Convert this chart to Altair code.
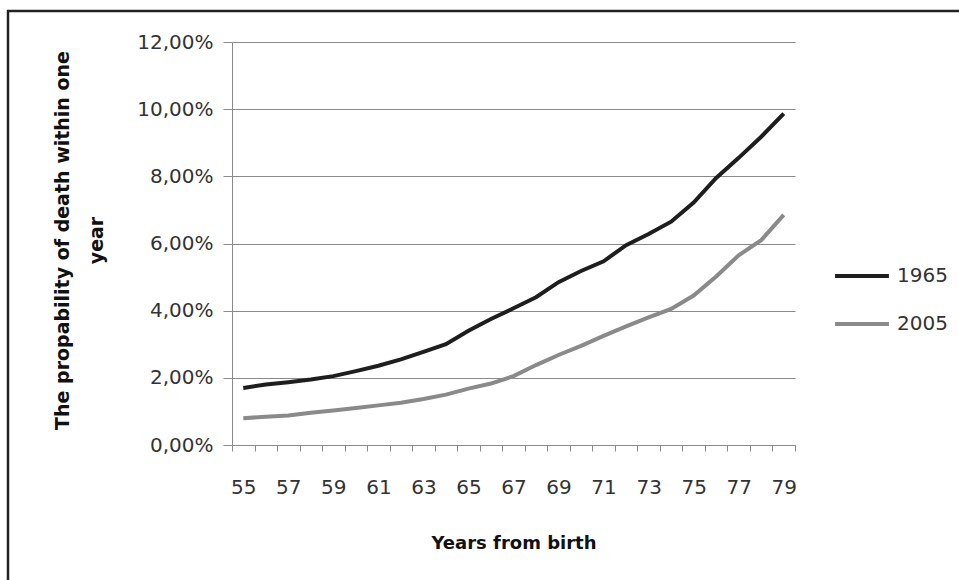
import altair as alt
import pandas as pd

years = list(range(55, 80))
p1965 = [1.70, 1.80, 1.87, 1.95, 2.05, 2.20, 2.36, 2.55, 2.77, 3.00, 3.40, 3.75, 4.07,
         4.40, 4.85, 5.18, 5.47, 5.95, 6.28, 6.65, 7.22, 7.95, 8.55, 9.18, 9.87]
p2005 = [0.80, 0.84, 0.88, 0.96, 1.03, 1.10, 1.18, 1.26, 1.37, 1.50, 1.68, 1.83, 2.05,
         2.38, 2.68, 2.95, 3.25, 3.53, 3.80, 4.05, 4.45, 5.02, 5.65, 6.10, 6.85]
series = ["1965", "2005"]
colors = ["#1e1e1e", "#8a8a8a"]
y_ticks = [0, 0.02, 0.04, 0.06, 0.08, 0.10, 0.12]

rows = []
for s, vals in zip(series, [p1965, p2005]):
    for yr, v in zip(years, vals):
        rows.append({"year": yr, "p": v / 100.0, "series": s})
df = pd.DataFrame(rows)

FONT = "DejaVu Sans"
W, H = 563, 403
PL, PT = 232, 42

lines = alt.Chart(df).mark_line(strokeWidth=4, clip=False).encode(
    x=alt.X("year:O", bandPosition=0.5,
            scale=alt.Scale(type="band", paddingInner=0, paddingOuter=0),
            axis=alt.Axis(title="Years from birth", labelAngle=0, tickBand="extent",
                          labelExpr="datum.value % 2 == 1 ? datum.label : ''",
                          labelOverlap=False, labelFont=FONT, labelFontSize=20,
                          labelColor="#333333", labelPadding=26, tickSize=6,
                          tickColor="#8a8a8a", domainColor="#8a8a8a", grid=False,
                          titleFont=FONT, titleFontSize=18, titleFontWeight="bold",
                          titleColor="#111111", titleY=98, titleBaseline="middle")),
    y=alt.Y("p:Q", scale=alt.Scale(domain=[0, 0.12], nice=False),
            axis=alt.Axis(values=y_ticks,
                          labelExpr="replace(format(datum.value, '.2%'), '.', ',')",
                          title=["The propability of death within one", "year"],
                          labelFont=FONT, labelFontSize=20, labelColor="#333333",
                          labelPadding=10, tickSize=9, tickColor="#8a8a8a",
                          domainColor="#8a8a8a", grid=True, gridColor="#8a8a8a",
                          gridWidth=1, titleFont=FONT, titleFontSize=19,
                          titleFontWeight="bold", titleColor="#111111",
                          titleAngle=-90, titleAlign="center", titleBaseline="middle",
                          titleX=-170, titleY=198, titleLineHeight=34)),
    color=alt.Color("series:N", scale=alt.Scale(domain=series, range=colors),
                    legend=alt.Legend(title=None, orient="none", legendX=601, legendY=205,
                                      symbolType="stroke", symbolSize=2900,
                                      symbolStrokeWidth=4, labelFont=FONT,
                                      labelFontSize=20, labelColor="#333333",
                                      labelOffset=6, rowPadding=9)),
)

frame = alt.Chart(pd.DataFrame({"k": [0]})).mark_rect(
    fill=None, stroke="#222222", strokeWidth=2.5, clip=False
).encode(
    x=alt.value(8 - PL), y=alt.value(11 - PT),
    x2=alt.value(1000 - PL), y2=alt.value(640 - PT),
)

chart = alt.layer(frame, lines).properties(
    width=W, height=H,
    autosize=alt.AutoSizeParams(type="none"),
    padding={"left": PL, "top": PT, "right": 959 - PL - W, "bottom": 580 - PT - H},
    background="white",
).configure_view(stroke=None)

chart.save("out.html", embed_options={"renderer": "svg", "actions": False})
